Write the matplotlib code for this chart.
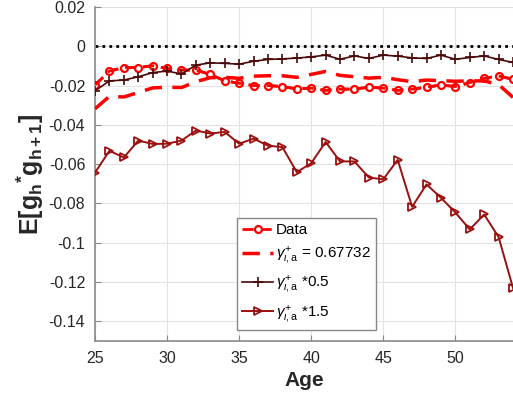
import matplotlib
matplotlib.use('Agg')
import matplotlib.pyplot as plt

plt.rcParams['font.family'] = ['Liberation Sans', 'DejaVu Sans']
plt.rcParams['mathtext.fontset'] = 'custom'
plt.rcParams['mathtext.rm'] = 'Liberation Sans'
plt.rcParams['mathtext.it'] = 'Liberation Sans:italic'
plt.rcParams['mathtext.bf'] = 'Liberation Sans:bold'

age = list(range(25, 55))

data = [-0.0197, -0.0126, -0.0108, -0.0108, -0.0099, -0.0113, -0.0121, -0.0121, -0.0143, -0.0176,
        -0.0188, -0.0200, -0.0200, -0.0205, -0.0217, -0.0213, -0.0225, -0.0218, -0.0218, -0.0208,
        -0.0213, -0.0225, -0.0218, -0.0208, -0.0197, -0.0205, -0.0185, -0.0163, -0.0151, -0.0168]

gamma_fit = [-0.0318, -0.0255, -0.0258, -0.0235, -0.0212, -0.0208, -0.0210, -0.0180, -0.0160, -0.0158,
             -0.0163, -0.0152, -0.0150, -0.0150, -0.0158, -0.0143, -0.0128, -0.0148, -0.0155, -0.0162,
             -0.0158, -0.0170, -0.0180, -0.0172, -0.0175, -0.0178, -0.0176, -0.0176, -0.0195, -0.0260]

gamma_half = [-0.0227, -0.0176, -0.0172, -0.0155, -0.0134, -0.0126, -0.0141, -0.0096, -0.0084, -0.0087,
              -0.0091, -0.0076, -0.0067, -0.0064, -0.0060, -0.0054, -0.0045, -0.0066, -0.0049, -0.0062,
              -0.0045, -0.0050, -0.0059, -0.0062, -0.0045, -0.0066, -0.0057, -0.0049, -0.0067, -0.0082]

gamma_1p5 = [-0.0643, -0.0532, -0.0566, -0.0480, -0.0497, -0.0496, -0.0480, -0.0429, -0.0444, -0.0436,
             -0.0496, -0.0470, -0.0506, -0.0513, -0.0641, -0.0595, -0.0487, -0.0586, -0.0586, -0.0668,
             -0.0677, -0.0578, -0.0817, -0.0703, -0.0771, -0.0846, -0.0932, -0.0856, -0.0971, -0.1230]

gamma_lbl = r'$\gamma^{+}_{\iota,\mathrm{a}}$'

fig = plt.figure(figsize=(5.13, 4.07), dpi=100)
ax = fig.add_axes([0.1852, 0.1622, 0.8148, 0.8206])

ax.axhline(0, color='black', lw=2, ls=(0, (1, 1.5)), zorder=2)

dash = (0, (4, 2.5))
ax.plot(age, data, color='red', lw=2, ls=dash, marker='o', ms=5, mfc='white',
        mec='red', mew=1.6, label='Data', zorder=3)
# dashes drawn again over the circles
ax.plot(age, data, color='red', lw=2, ls=dash, zorder=4)
ax.plot(age, gamma_fit, color='red', lw=2.5, ls=(0, (5, 3)), zorder=5,
        label=gamma_lbl + ' = 0.67732')
ax.plot(age, gamma_half, color='#4a0808', lw=1.2, marker='+', ms=7, mew=1.2,
        zorder=6, label=gamma_lbl + ' *0.5')
ax.plot(age, gamma_1p5, color='#9a1010', lw=1.4, marker='>', ms=6, mfc='none',
        mew=1.3, zorder=6, label=gamma_lbl + ' *1.5')

ax.set_xlim(25, 54)
ax.set_ylim(-0.15, 0.02)
ax.set_xticks([25, 30, 35, 40, 45, 50])
ax.set_yticks([0.02, 0, -0.02, -0.04, -0.06, -0.08, -0.1, -0.12, -0.14])
ax.set_yticklabels(['0.02', '0', '-0.02', '-0.04', '-0.06', '-0.08', '-0.1', '-0.12', '-0.14'])
ax.grid(True, color='#e3e3e3', lw=0.8)
ax.set_axisbelow(True)
ax.tick_params(direction='in', length=4, color='#888888', labelsize=11.5, labelcolor='#262626', pad=7)
for side in ['top', 'right']:
    ax.spines[side].set_visible(False)
for side in ['left', 'bottom']:
    ax.spines[side].set_color('#8a8a8a')
    ax.spines[side].set_linewidth(1.2)

ax.set_xlabel('Age', fontsize=15, fontweight='bold', color='#262626')
ax.set_ylabel(r'$\mathbf{E[g_h{}^{*}g_{h+1}]}$', fontsize=18, color='#262626', labelpad=2)

leg = ax.legend(loc='lower left', bbox_to_anchor=(0.34, 0.033), borderaxespad=0, fontsize=11,
                fancybox=False, edgecolor='#888888', framealpha=1, handlelength=2.0,
                handletextpad=0.2, borderpad=0.35, labelspacing=0.5)
leg.get_frame().set_linewidth(1.0)

fig.savefig('out.png', dpi=100)
